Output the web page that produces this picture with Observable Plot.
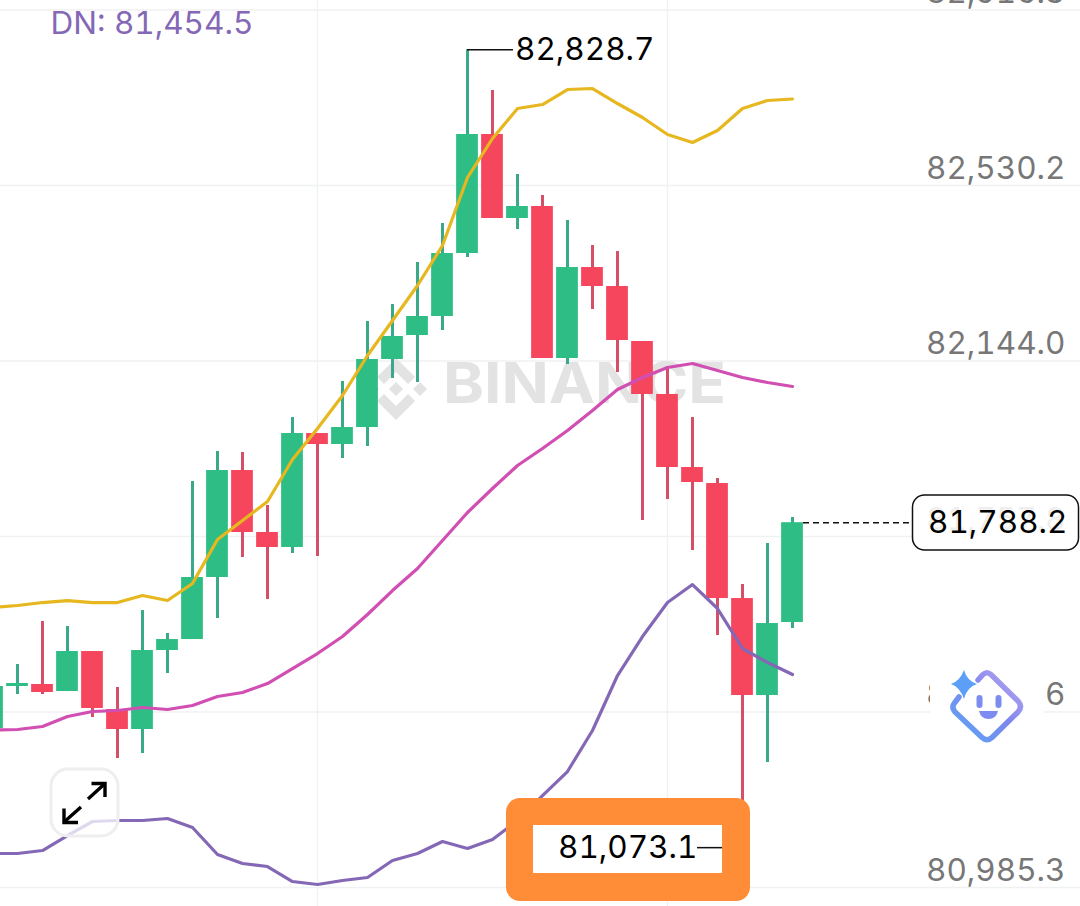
<!DOCTYPE html>
<html>
<head>
<meta charset="utf-8">
<script src="https://cdn.jsdelivr.net/npm/d3@7"></script>
<script src="https://cdn.jsdelivr.net/npm/@observablehq/plot@0.6"></script>
<style>
html,body{margin:0;padding:0;background:#fff;overflow:hidden}
svg{display:block}
</style>
</head>
<body>
<div id="chart"></div>
<script>
const opens  = [81335.3,81427.7,81432.1,81416.7,81504.7,81377.1,81333.1,81506.9,81531.1,81667.6,81903.0,81766.6,81733.6,81984.4,81960.2,81997.6,82147.3,82200.1,82241.9,82380.5,82642.4,82457.6,82484.0,82149.5,82349.7,82307.9,82186.9,82070.3,81909.6,81874.4,81621.3,81407.9,81568.5];
const closes = [81427.7,81434.3,81414.5,81504.7,81379.3,81333.1,81506.9,81531.1,81667.6,81903.0,81766.6,81733.6,81984.4,81960.2,81997.6,82147.3,82197.9,82241.9,82380.5,82642.4,82457.6,82484.0,82149.5,82349.7,82307.9,82189.1,82070.3,81909.6,81876.6,81621.3,81407.9,81566.3,81788.2];
const highs  = [81440.0,81476.1,81570.7,81559.7,81504.7,81425.5,81594.9,81544.3,81878.8,81944.8,81942.6,81826.0,82019.6,81984.4,82098.9,82230.9,82268.3,82360.7,82446.6,82828.7,82739.2,82554.4,82508.2,82453.2,82398.2,82384.9,82186.9,82131.9,82019.6,81885.4,81652.1,81742.4,81799.6];
const lows   = [81320.0,81410.1,81410.1,81416.7,81359.5,81269.2,81280.2,81456.3,81531.1,81577.3,81711.6,81619.1,81720.4,81713.8,81929.4,81955.8,82105.5,82096.7,82211.1,82371.7,82457.6,82433.4,82149.5,82136.3,82257.3,82118.7,81793.0,81839.2,81727.0,81539.9,81073.1,81260.4,81555.3];
const upBand = [81601.5,81605.9,81612.5,81616.9,81612.5,81612.5,81627.9,81616.9,81654.4,81751.2,81793.0,81834.8,81927.2,81995.4,82068.1,82156.1,82233.1,82310.1,82398.2,82547.8,82633.6,82699.6,82708.4,82741.4,82743.6,82710.6,82679.8,82642.4,82624.8,82651.2,82699.6,82717.2,82720.5];
const midBand = [81332.0,81333.1,81339.7,81361.7,81372.7,81374.9,81381.5,81377.1,81385.9,81405.7,81414.5,81434.3,81467.3,81500.3,81537.7,81586.1,81638.9,81687.4,81749.0,81810.6,81863.4,81914.0,81951.4,81991.0,82035.1,82081.3,82107.7,82129.7,82138.5,82123.1,82107.7,82096.7,82087.9];
const dnBand = [81060.2,81060.2,81066.8,81099.8,81130.6,81132.8,81132.8,81137.2,81117.4,81058.0,81038.2,81031.6,80998.6,80992.0,81000.8,81007.4,81044.8,81060.2,81086.6,81071.2,81091.0,81132.8,81187.8,81240.6,81330.9,81451.9,81537.7,81612.5,81652.1,81599.3,81511.3,81480.5,81454.1];
const yTickValues = [82916.4,82530.2,82144.0,81757.8,81371.6,80985.3];
const yTickLabels = ["82,916.3","82,530.2","82,144.0","81,757.8","81,371.6","80,985.3"];
const xGridIndex = [13,27];
const highLabel = "82,828.7", lowLabel = "81,073.1", lastLabel = "81,788.2", dnLabel = "DN: 81,454.5";
const highValue = 82828.7, lowValue = 81073.1, lastValue = 81788.2;

const GREEN="#2ebd85", RED="#f6465d", WICK_G="#3aa98a", WICK_R="#d44f68";
const FONT="Inter, sans-serif";
const FS=31.5;
const candles = opens.map((o,i)=>({i,o,c:closes[i],h:highs[i],l:lows[i],up:closes[i]>=o}));
const ticks = yTickValues.map((v,i)=>({v,t:yTickLabels[i]}));

function svgMark(markup){
  return () => {
    const g=document.createElementNS("http://www.w3.org/2000/svg","g");
    g.innerHTML=markup;
    return g;
  };
}
const watermark = svgMark(`
  <g transform="translate(365,358) scale(0.49)" fill="#e3e3e3">
    <path d="M38.73 53.2l24.59-24.58 24.6 24.6 14.3-14.31L63.32 0 24.43 38.9zM0 63.31l14.3-14.31 14.31 14.31-14.31 14.3zM38.73 73.41l24.59 24.59 24.6-24.6 14.31 14.29-38.9 38.91-38.91-38.88zM98 63.31l14.3-14.31 14.31 14.3-14.31 14.32z"/>
    <path d="M77.83 63.3L63.32 48.78 52.59 59.51l-1.24 1.23-2.54 2.54 14.51 14.52 14.51-14.51z"/>
  </g>
  <text x="443" y="403" text-anchor="start" font-family="${FONT}" font-weight="700" font-size="56" fill="#e3e3e3" textLength="283" lengthAdjust="spacingAndGlyphs">BINANCE</text>`);
const expandButton = svgMark(`
  <rect x="51" y="769" width="67" height="67" rx="17" fill="#fff" fill-opacity="0.75" stroke="#eeeef0" stroke-width="3"/>
  <g stroke="#000" stroke-width="3.4" fill="none">
    <path d="M63.5 822.5L81 807M88 799L105 783.5"/>
    <path d="M64 808.5V822.5H78M91.5 783.5H105V797"/>
  </g>`);
const orangeBox = svgMark(`
  <rect x="506" y="798" width="244" height="103" rx="14" fill="#ff8c36"/>
  <rect x="533" y="825" width="189" height="48" fill="#fff"/>`);
const aiPatch = svgMark(`
  <rect x="930" y="668" width="114" height="76" fill="#fff"/>
  <defs><linearGradient id="ai" x1="0" y1="1" x2="1" y2="0">
    <stop offset="0" stop-color="#5aa7f5"/><stop offset="0.55" stop-color="#7d86ee"/><stop offset="1" stop-color="#c0a8f2"/>
  </linearGradient></defs>
  <path d="M978 680L983 674.5Q987 671 991 674.5L1018 701Q1023 706.5 1018 712L992 737.5Q987 742 982 737.5L955 712Q951 707 954.5 703L959 697" fill="none" stroke="url(#ai)" stroke-width="5.5" stroke-linecap="round"/>
  <path d="M964 670Q967 681 977 684Q967 687 964 699Q960 687 951 684Q960 681 964 670Z" fill="#5b9ff7"/>
  <rect x="976.5" y="695" width="6" height="13" rx="3" fill="#7c8cf0"/>
  <rect x="995.5" y="695" width="6" height="13" rx="3" fill="#7c8cf0"/>
  <path d="M979 711H998Q996 719 988.5 719Q981 719 979 711Z" fill="#7c8cf0"/>`);
const priceBox = svgMark(`
  <rect x="912.5" y="495" width="166" height="55" rx="12" fill="#fff" fill-opacity="0.88" stroke="#111" stroke-width="1.5"/>`);

const plot = Plot.plot({
  width:1080, height:906,
  marginLeft:0, marginRight:0, marginTop:0, marginBottom:0,
  style:{background:"#fff", fontFamily:FONT, overflow:"hidden", fontVariantNumeric:"tabular-nums"},
  x:{axis:null, type:"linear", domain:[0.32,43.52]},
  y:{axis:null, type:"linear", domain:[80943.6,82937.3]},
  marks:[
    Plot.ruleY(yTickValues,{stroke:"#f0f1f3",strokeWidth:1.6}),
    Plot.ruleX(xGridIndex,{stroke:"#f0f1f3",strokeWidth:1.3}),
    watermark,
    Plot.text(ticks,{y:"v",text:"t",frameAnchor:"right",textAnchor:"end",dx:-15,dy:-17,fill:"#777",fontSize:FS,fontFamily:FONT}),
    aiPatch,
    Plot.ruleX(candles,{x:"i",y1:"l",y2:"h",stroke:d=>d.up?WICK_G:WICK_R,strokeWidth:3}),
    Plot.rect(candles,{x1:d=>d.i-0.435,x2:d=>d.i+0.435,y1:d=>Math.min(d.o,d.c),y2:d=>Math.max(d.o,d.c),fill:d=>d.up?GREEN:RED}),
    Plot.line(upBand,{x:(d,i)=>i,y:d=>d,stroke:"#e6b71e",strokeWidth:3.2,curve:"linear"}),
    Plot.line(midBand,{x:(d,i)=>i,y:d=>d,stroke:"#d14eb2",strokeWidth:3.2,curve:"linear"}),
    Plot.line(dnBand,{x:(d,i)=>i,y:d=>d,stroke:"#8468b6",strokeWidth:3.2,curve:"linear"}),
    Plot.ruleY([highValue],{x1:19,x2:20.84,stroke:"#111",strokeWidth:1.5}),
    Plot.text([highLabel],{x:20.9,y:[highValue],text:d=>d,textAnchor:"start",fill:"#000",fontSize:FS,fontFamily:FONT}),
    expandButton,
    orangeBox,
    Plot.ruleY([lowValue],{x1:28.2,x2:29.2,stroke:"#111",strokeWidth:1.5}),
    Plot.text([lowLabel],{x:22.62,y:[lowValue],text:d=>d,textAnchor:"start",fill:"#000",fontSize:FS,fontFamily:FONT}),
    Plot.ruleY([lastValue],{x1:32.44,x2:36.8,stroke:"#111",strokeWidth:1.5,strokeDasharray:"6 4"}),
    priceBox,
    Plot.text([lastLabel],{x:37.42,y:[lastValue],text:d=>d,textAnchor:"start",fill:"#000",fontSize:FS,fontFamily:FONT}),
    Plot.text([dnLabel],{frameAnchor:"top-left",dx:50,dy:11,text:d=>d,textAnchor:"start",lineAnchor:"top",fill:"#8468b6",fontSize:FS,fontFamily:FONT})
  ]
});
document.getElementById("chart").append(plot);
</script>
</body>
</html>
